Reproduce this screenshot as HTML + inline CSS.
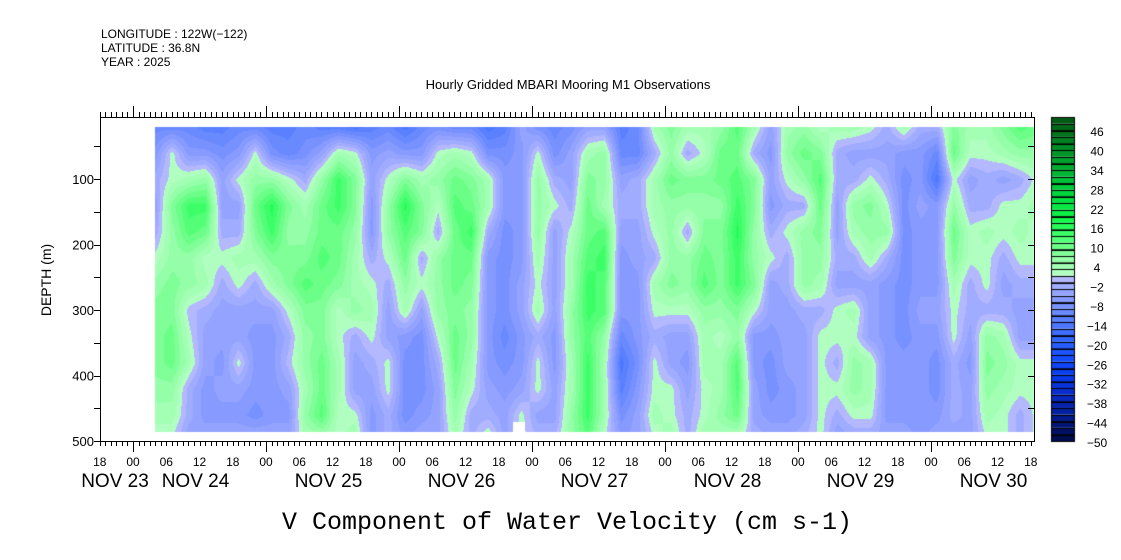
<!DOCTYPE html>
<html><head><meta charset="utf-8"><style>
body{margin:0;background:#fff;width:1121px;height:560px;overflow:hidden;position:relative;font-family:"Liberation Sans",sans-serif}
#c{position:absolute;left:0;top:0}
svg{position:absolute;left:0;top:0}
</style></head><body>
<canvas id="c" width="1121" height="560"></canvas>
<svg id="s" width="1121" height="560">
<g font-family="Liberation Sans, sans-serif" font-size="12" fill="#000">
<text x="101" y="38">LONGITUDE : 122W(−122)</text>
<text x="101" y="52">LATITUDE : 36.8N</text>
<text x="101" y="66">YEAR : 2025</text>
<text x="568" y="89" font-size="13" text-anchor="middle">Hourly Gridded MBARI Mooring M1 Observations</text>
</g>
<text x="567" y="529" font-family="Liberation Mono, monospace" font-size="25" text-anchor="middle">V Component of Water Velocity (cm s-1)</text>
<text transform="translate(51,280) rotate(-90)" font-size="14" text-anchor="middle" font-family="Liberation Sans, sans-serif">DEPTH (m)</text>
<g id="axes"></g>
</svg>
<script>
// ---- data (V component, cm/s) ----
const hours = [4,7,10,13,16,19,22,25,28,31,34,37,40,43,46,49,52,55,58,61,64,67,70,73,76,79,82,85,88,91,94,97,100,103,106,109,112,115,118,121,124,127,130,133,136,139,142,145,148,151,154,157,160,163];
const depths = [20,60,100,140,180,220,260,300,340,380,420,460,485];
const vel = [
[-11,-7,-3,-5,-3,1,5,7,7,7,5,3,1],
[-11,1,1,7,5,5,7,7,9,9,5,3,1],
[-11,-7,3,13,11,5,5,-1,1,3,-3,-3,-5],
[-13,-7,5,13,9,1,3,-3,-5,-5,-7,-7,-5],
[-13,-9,-5,-5,-3,1,-3,-5,-5,-7,-5,-7,-5],
[-11,-7,1,-5,-3,3,1,-5,-5,1,-5,-7,-5],
[-11,1,5,9,7,3,-3,-5,-7,-7,-7,-9,-5],
[-13,-9,5,15,13,7,3,-5,-7,-7,-7,-7,-5],
[-13,-11,1,7,5,7,7,1,-3,-1,-5,-7,-5],
[-11,-9,-3,3,5,7,11,7,5,5,3,5,3],
[-13,-5,5,9,9,11,9,7,7,9,9,11,5],
[-13,3,13,13,9,9,7,1,1,3,3,1,1],
[-15,1,7,7,5,3,3,5,-3,-5,-5,1,3],
[-13,-7,-5,-7,-7,-3,1,3,1,-3,-5,-7,-7],
[-11,-5,1,5,5,1,-3,-5,-5,1,1,-3,-3],
[-15,-7,7,15,11,9,5,3,-7,-9,-9,-9,-7],
[-11,-7,3,7,7,-3,1,-5,-9,-9,-9,-7,-5],
[-9,1,5,1,-3,5,5,5,1,-3,-5,-5,-5],
[-11,3,9,11,9,9,9,7,9,9,7,5,3],
[-11,1,7,9,13,9,7,5,5,3,1,-3,-3],
[-15,-9,3,3,-3,-7,-7,-7,-7,-7,-5,-3,1],
[-13,-9,-7,-7,-9,-9,-9,-9,-11,-9,-7,-5,-5],
[-5,-7,-7,-7,-7,-7,-5,-5,-7,-7,-5,1,1],
[-9,1,5,5,5,3,1,3,-3,1,1,-5,-3],
[-11,-9,-3,1,-5,-5,-5,-5,-7,-7,-5,-5,-3],
[-9,-5,-5,-3,1,3,3,5,5,3,3,5,5],
[-5,3,7,9,9,11,13,13,11,13,13,13,11],
[-5,5,5,3,11,13,11,11,5,3,3,3,1],
[-13,-11,-5,-3,-5,-7,-7,-7,-11,-15,-13,-9,-7],
[-11,-11,-3,-3,-5,-5,-7,-7,-7,-9,-7,-5,-5],
[3,-3,3,3,1,-3,3,1,-3,1,1,3,1],
[7,5,9,5,5,5,7,1,-5,-5,1,1,3],
[3,-3,7,5,-3,5,5,1,-5,-7,-5,-3,-3],
[3,1,7,5,7,9,11,5,3,3,1,1,3],
[5,9,9,5,7,7,7,5,1,3,3,5,3],
[11,9,11,13,15,13,13,7,5,11,11,9,3],
[3,-3,7,7,5,5,7,1,-7,-7,-5,-5,-3],
[-5,-7,-5,-7,-3,1,-5,-5,-7,-9,-9,-7,-5],
[3,5,1,-3,1,-3,-3,-5,-5,-5,-7,-7,-5],
[5,9,5,-3,5,5,5,-3,-5,-5,-5,-5,-3],
[1,7,11,9,7,5,3,-3,1,1,1,1,1],
[3,-3,-3,-5,-5,-3,-5,1,1,-3,1,-3,-5],
[3,-5,-3,5,3,-3,-5,3,1,5,5,1,-3],
[1,-5,1,7,5,3,-5,-5,-5,3,3,1,-3],
[-3,-5,-3,1,5,-3,-7,-7,-7,-7,-7,-7,-5],
[3,-7,-9,-9,-9,-9,-9,-9,-9,-7,-7,-7,-5],
[-3,-7,-7,-5,-7,-7,-7,-5,-7,-7,-7,-7,-7],
[-3,-11,-15,-7,-7,-7,-7,-5,-7,-9,-9,-7,-5],
[7,9,1,5,9,7,3,1,1,-3,-3,-3,-5],
[3,1,-5,-3,1,1,-3,-3,-5,-7,-5,-5,-5],
[3,1,-3,-3,3,1,1,-3,5,7,5,3,1],
[7,3,-5,1,1,-3,-5,-3,3,5,3,1,1],
[11,5,-3,1,3,1,-3,-5,-5,1,1,-3,-3],
[9,5,1,3,1,1,-3,-5,-5,1,1,1,1]
];
const cbarLabels = [46,40,34,28,22,16,10,4,-2,-8,-14,-20,-26,-32,-38,-44,-50];
const hourLabels = ['18','00','06','12','18','00','06','12','18','00','06','12','18','00','06','12','18','00','06','12','18','00','06','12','18','00','06','12','18'];
const dayLabels = ['NOV 23','NOV 24','NOV 25','NOV 26','NOV 27','NOV 28','NOV 29','NOV 30'];
const depthTicks = [100,200,300,400,500];

// ---- scales ----
const X0=133, PXH=133/24;
const xs = h => X0 + h*PXH;
const ys = d => 117 + (d-5)*(324/495);
const L=100,R=1034,T=117,B=441;

const negA=[[-50,[0,12,80]],[-44,[0,26,140]],[-38,[8,40,190]],[-32,[8,56,232]],[-26,[20,76,255]],[-20,[48,100,255]],[-14,[90,128,255]],[-8,[134,154,255]],[-4,[160,172,255]],[-2,[180,184,255]]];
const posA=[[0,[176,255,192]],[4,[148,255,168]],[8,[108,255,136]],[12,[60,255,104]],[16,[20,248,76]],[22,[0,224,64]],[28,[0,192,56]],[34,[0,160,44]],[40,[0,128,32]],[46,[0,90,20]]];
function lerpA(A,v){ if(v<=A[0][0])return A[0][1]; for(let i=1;i<A.length;i++){ if(v<=A[i][0]){const f=(v-A[i-1][0])/(A[i][0]-A[i-1][0]);return A[i-1][1].map((c,k)=>Math.round(c+(A[i][1][k]-c)*f));}} return A[A.length-1][1]; }
function bandColor(lo){ return lo<0? lerpA(negA,lo) : lerpA(posA,lo); }

// ---- heatmap ----
const cv=document.getElementById('c'), ctx=cv.getContext('2d');
const dx0=Math.round(xs(hours[0])), dx1=R, dy0=Math.round(ys(depths[0])), dy1=Math.round(ys(depths[depths.length-1]))+1;
const img=ctx.createImageData(dx1-dx0, dy1-dy0);
function idx(arr,v){ let i=0; while(i<arr.length-2 && v>arr[i+1]) i++; return i; }
for(let py=dy0;py<dy1;py++){
  const d=5+(py-117)*495/324; const j=idx(depths,d); let fy=(d-depths[j])/(depths[j+1]-depths[j]); fy=Math.max(0,Math.min(1,fy));
  for(let px=dx0;px<dx1;px++){
    const h=(px-X0)/PXH; const i=idx(hours,h); let fx=(h-hours[i])/(hours[i+1]-hours[i]); fx=Math.max(0,Math.min(1,fx));
    const v=(vel[i][j]*(1-fx)+vel[i+1][j]*fx)*(1-fy)+(vel[i][j+1]*(1-fx)+vel[i+1][j+1]*fx)*fy;
    let lo=Math.floor(v/2)*2; lo=Math.max(-50,Math.min(46,lo));
    const c=bandColor(lo); const o=((py-dy0)*(dx1-dx0)+(px-dx0))*4;
    img.data[o]=c[0];img.data[o+1]=c[1];img.data[o+2]=c[2];img.data[o+3]=255;
  }
}
ctx.putImageData(img,dx0,dy0);
ctx.fillStyle='#fff'; ctx.fillRect(513,422,12,dy1-422);

// ---- colorbar ----
const CB0=1051,CBW=24;
for(let k=0;k<49;k++){
  const lo=-50+2*k; const c=bandColor(lo);
  const yTop=441-(k+1)*324/49;
  ctx.fillStyle=`rgb(${c[0]},${c[1]},${c[2]})`; ctx.fillRect(CB0,yTop,CBW,324/49);
  ctx.strokeStyle='#000'; ctx.lineWidth=1; ctx.strokeRect(CB0+0.5,Math.round(yTop)+0.5,CBW-1,Math.round(324/49));
}

// ---- axes (svg) ----
const NS='http://www.w3.org/2000/svg', g=document.getElementById('axes');
function ln(x1,y1,x2,y2,name){const e=document.createElementNS(NS,'line');e.setAttribute('x1',x1);e.setAttribute('y1',y1);e.setAttribute('x2',x2);e.setAttribute('y2',y2);e.setAttribute('stroke','#000');e.setAttribute('stroke-width','1');


g.appendChild(e);}
function tx(x,y,s,size,anchor,name){const e=document.createElementNS(NS,'text');e.setAttribute('x',x);e.setAttribute('y',y);e.setAttribute('font-size',size);e.setAttribute('text-anchor',anchor);e.setAttribute('font-family','Liberation Sans, sans-serif');e.textContent=s;


g.appendChild(e);}
ln(L,T+0.5,R,T+0.5,'plot-frame-top');ln(L,B+0.5,R,B+0.5,'plot-frame-bottom');
ln(L+0.5,T,L+0.5,B+1,'y-axis-line');ln(R+0.5,T,R+0.5,B+1,'plot-frame-right');
for(let h=-6;h<=163;h++){
  const x=Math.round(xs(h))+0.5; if(x<L||x>R+1)continue;
  const hh=((h%24)+24)%24;
  ln(x,B,x,B+(hh===0?11:5),'x-tick');
  ln(x,T,x,T-(hh===0?11:5),'x-tick-top');
}
hourLabels.forEach((s,k)=>{ tx(xs(-6+6*k),466,s,12,'middle','x-tick-label'); });
dayLabels.forEach((s,k)=>{ const x=k===0?115:xs(24*(k-1)+12)-4; tx(x,487,s,19,'middle','day-label'); });
for(let d=50;d<=500;d+=50){ const y=Math.round(ys(d))+0.5; ln(L-6,y,L,y,'y-tick'); ln(R-6,y,R,y,'y-tick-right'); }
depthTicks.forEach(d=>tx(94,ys(d)+5,String(d),13,'end','y-tick-label'));
cbarLabels.forEach(v=>{ const y=131+(46-v)*(442-131)/96; tx(1097,y+5,String(v).replace('-','−'),12,'middle','colorbar-label'); });
</script>
</body></html>
